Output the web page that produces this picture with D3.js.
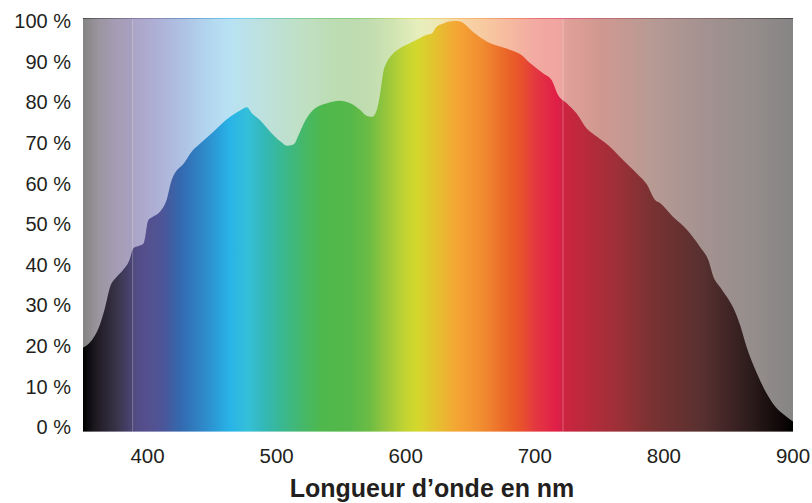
<!DOCTYPE html>
<html>
<head>
<meta charset="utf-8">
<script src="https://cdn.jsdelivr.net/npm/d3@7"></script>
<style>
  html, body { margin: 0; padding: 0; background: #fff; }
  svg { display: block; }
  text { font-family: "Liberation Sans", Arial, Helvetica, sans-serif; fill: #231f20; }
</style>
</head>
<body>
<svg id="chart" width="812" height="503"></svg>
<script>
// Relative spectral intensity (%) against wavelength (nm)
const wavelengths = [350, 355, 359, 363, 367, 371, 376, 381, 386, 389, 393, 397, 400.6, 403.5, 409.6, 414.8, 418.7, 429, 434, 441, 451, 464, 472, 477, 481, 487, 495, 503, 508, 512, 514, 517, 521, 528, 539, 549, 557, 565, 569, 574, 577.5, 580, 582.6, 585.5, 590.4, 595.6, 603, 611, 616, 620.4, 623.5, 629, 634, 640, 645, 652, 663, 673, 681, 688.5, 696, 706.6, 713, 718, 724.7, 732.4, 740, 748, 758, 768.5, 779, 786.6, 793, 797, 807, 818, 828, 834.4, 838.3, 843.5, 848.7, 853.8, 859, 864, 872, 879.6, 887.4, 895, 900];
const intensity = [20.3, 21.4, 23.1, 25.8, 29.9, 35.0, 37.4, 39.1, 41.5, 44.4, 44.9, 45.6, 51.2, 51.9, 53.2, 56.1, 60.9, 65.3, 67.7, 69.8, 72.6, 76.2, 77.8, 78.5, 77.0, 75.4, 72.6, 70.2, 69.2, 69.4, 69.8, 71.8, 74.6, 77.8, 79.5, 80.1, 79.5, 77.8, 76.6, 76.2, 77.8, 81.5, 87.0, 89.5, 91.6, 92.8, 94.0, 95.3, 96.0, 96.4, 97.9, 98.8, 99.3, 99.4, 98.8, 96.8, 94.4, 93.2, 92.4, 91.4, 89.3, 86.7, 85.1, 81.5, 79.5, 77.0, 73.4, 71.4, 69.0, 65.7, 62.5, 59.9, 56.1, 55.3, 52.0, 48.8, 44.7, 41.5, 37.5, 35.0, 32.6, 29.9, 25.8, 20.5, 14.1, 9.2, 5.6, 3.6, 2.4];

// Axis ticks
const xTicks = [400, 500, 600, 700, 800, 900];
const yTicks = [0, 10, 20, 30, 40, 50, 60, 70, 80, 90, 100];
const xTitle = "Longueur d’onde en nm";

// Limits of the visible band, marked with thin lines
const visibleBounds = [388.5, 721.8];

// Spectrum colour stops: saturated (under the curve) and washed (above it)
const vividStops = [
  [350, "#000000"], [360, "#1e1a22"], [375, "#383246"], [388, "#4a4474"],
  [391, "#524c86"], [400, "#55508e"], [412, "#4c5598"], [425, "#3468ae"],
  [440, "#2f82c4"], [452, "#2b9ad6"], [464, "#28b4e8"], [478, "#35bfd8"],
  [490, "#33b8b8"], [505, "#3ab890"], [520, "#45b86a"], [535, "#4fb84d"],
  [557, "#55b84a"], [572, "#6cbc44"], [585, "#98c63c"], [600, "#c4d432"],
  [609, "#d4d82c"], [625, "#e6be30"], [640, "#f5a535"], [660, "#f08b30"],
  [680, "#ea6228"], [690, "#e8502c"], [700, "#e43840"], [717, "#e01e48"],
  [723, "#cc2440"], [740, "#b82a3c"], [765, "#9c3038"], [790, "#7a3232"],
  [830, "#583030"], [866, "#2e1c1c"], [890, "#100808"], [900, "#000000"]
];
const paleStops = [
  [350, "#858383"], [362, "#9a959e"], [375, "#a59cb4"], [388, "#a8a0c0"],
  [391, "#aca6c8"], [405, "#aeaed4"], [425, "#aec0e2"], [445, "#b2d4ee"],
  [463, "#b8e2f4"], [480, "#bce2e6"], [500, "#bee0d4"], [520, "#c0e0c4"],
  [545, "#bcdcb2"], [570, "#c0dcb0"], [590, "#d0e4b2"], [610, "#e6eebc"],
  [625, "#eee8b6"], [640, "#f6d8a8"], [660, "#f8caa0"], [680, "#f6baa0"],
  [700, "#f2aaa2"], [720, "#f0a4a0"], [723, "#e2a09a"], [750, "#d09890"],
  [790, "#b89a94"], [830, "#a49290"], [870, "#948d8c"], [900, "#868484"]
];

const svg = d3.select("#chart");
const plot = { left: 83, right: 793, top: 18.5, bottom: 431.5 };

const x = d3.scaleLinear().domain([350, 900]).range([plot.left, plot.right]);
const y = d3.scaleLinear().domain([0, 100]).range([plot.bottom, plot.top]);
// label placement for the percentage column
const yLabel = d3.scaleLinear().domain([0, 100]).range([427, 21]);

const defs = svg.append("defs");
function addGradient(id, stops) {
  const g = defs.append("linearGradient")
    .attr("id", id)
    .attr("gradientUnits", "userSpaceOnUse")
    .attr("x1", x(350)).attr("x2", x(900))
    .attr("y1", 0).attr("y2", 0);
  g.selectAll("stop").data(stops).join("stop")
    .attr("offset", d => (x(d[0]) - x(350)) / (x(900) - x(350)))
    .attr("stop-color", d => d[1]);
}
addGradient("pale", paleStops);
addGradient("vivid", vividStops);

// washed spectrum background
svg.append("rect")
  .attr("x", x(350)).attr("y", y(100))
  .attr("width", x(900) - x(350)).attr("height", y(0) - y(100))
  .attr("fill", "url(#pale)");

// area under the emission curve
const points = wavelengths.map((w, i) => [w, intensity[i]]);
const area = d3.area()
  .x(d => x(d[0]))
  .y0(y(0))
  .y1(d => y(d[1]))
  .curve(d3.curveMonotoneX);
svg.append("path")
  .datum(points)
  .attr("d", area)
  .attr("fill", "url(#vivid)");

// visible band limits
svg.selectAll("line.bound").data(visibleBounds).join("line")
  .attr("class", "bound")
  .attr("x1", d => x(d)).attr("x2", d => x(d))
  .attr("y1", y(100)).attr("y2", y(0))
  .attr("stroke", "#ffffff")
  .attr("stroke-opacity", 0.28)
  .attr("stroke-width", 1);

// top edge
svg.append("line")
  .attr("x1", x(350)).attr("x2", x(900))
  .attr("y1", y(100)).attr("y2", y(100))
  .attr("stroke", "url(#vivid)")
  .attr("stroke-opacity", 0.6)
  .attr("stroke-width", 1);

// x tick labels
svg.selectAll("text.xt").data(xTicks).join("text")
  .attr("class", "xt")
  .attr("x", d => x(d))
  .attr("y", 463)
  .attr("text-anchor", "middle")
  .attr("font-size", "20.5px")
  .text(d => d);

// y tick labels
svg.selectAll("text.yt").data(yTicks).join("text")
  .attr("class", "yt")
  .attr("x", 71)
  .attr("y", d => yLabel(d))
  .attr("dy", "0.36em")
  .attr("text-anchor", "end")
  .attr("font-size", "20px")
  .text(d => d + " %");

// axis title
svg.append("text")
  .attr("x", 432)
  .attr("y", 497)
  .attr("text-anchor", "middle")
  .attr("font-size", "25px")
  .attr("font-weight", "bold")
  .text(xTitle);
</script>
</body>
</html>
